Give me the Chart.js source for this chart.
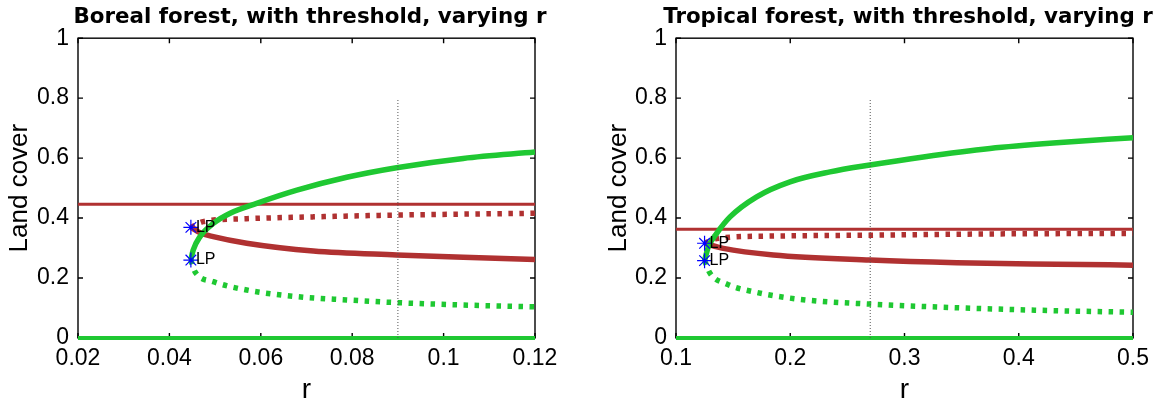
<!DOCTYPE html>
<html>
<head>
<meta charset="utf-8">
<title>Land cover bifurcation, varying r</title>
<script src="https://cdn.jsdelivr.net/npm/chart.js"></script>
<style>
    body { margin: 0; background: #fff; }
    .panel { position: absolute; top: 0; }
    #boreal { left: 0; }
    #tropical { left: 580px; }
</style>
</head>
<body>
<canvas id="boreal" class="panel" width="580" height="401"></canvas>
<canvas id="tropical" class="panel" width="580" height="401"></canvas>
<script>
// Boreal forest branches (r -> land cover)
const borealXTicks = [0.02, 0.04, 0.06, 0.08, 0.1, 0.12];
const borealLP_R = [0.0447, 0.0447];
const borealLP_V = [0.369, 0.26];
const borealGreenR = [0.0447, 0.0452, 0.0467, 0.0496, 0.0533, 0.0591, 0.0679, 0.0788, 0.0897, 0.1043, 0.12];
const borealGreenV = [0.26, 0.293, 0.338, 0.382, 0.416, 0.449, 0.493, 0.536, 0.568, 0.599, 0.62];
const borealGreenDotR = [0.0447, 0.0456, 0.0496, 0.0569, 0.0679, 0.0788, 0.0897, 0.1043, 0.12];
const borealGreenDotV = [0.26, 0.221, 0.188, 0.16, 0.138, 0.127, 0.118, 0.11, 0.104];
const borealRedR = [0.0447, 0.0467, 0.0496, 0.0569, 0.0715, 0.0897, 0.1043, 0.12];
const borealRedV = [0.369, 0.351, 0.338, 0.316, 0.29, 0.277, 0.269, 0.262];
const borealRedDotR = [0.0447, 0.0474, 0.0569, 0.0715, 0.0897, 0.12];
const borealRedDotV = [0.369, 0.388, 0.398, 0.404, 0.41, 0.416];
const borealThreshold = 0.446;
const borealMarkR = 0.09;

// Tropical forest branches
const tropicalXTicks = [0.1, 0.2, 0.3, 0.4, 0.5];
const tropicalLP_R = [0.125, 0.125];
const tropicalLP_V = [0.316, 0.258];
const tropicalGreenR = [0.125, 0.1283, 0.1356, 0.1473, 0.1706, 0.1998, 0.2348, 0.2698, 0.3165, 0.3748, 0.4332, 0.5];
const tropicalGreenV = [0.258, 0.304, 0.349, 0.404, 0.471, 0.521, 0.554, 0.577, 0.604, 0.632, 0.651, 0.668];
const tropicalGreenDotR = [0.125, 0.1298, 0.1444, 0.1706, 0.2085, 0.2698, 0.3457, 0.4332, 0.5];
const tropicalGreenDotV = [0.258, 0.216, 0.18, 0.152, 0.129, 0.113, 0.101, 0.091, 0.086];
const tropicalRedR = [0.125, 0.1414, 0.1852, 0.2698, 0.3457, 0.4332, 0.5];
const tropicalRedV = [0.316, 0.299, 0.277, 0.26, 0.251, 0.246, 0.243];
const tropicalRedDotR = [0.125, 0.1356, 0.1852, 0.2698, 0.3748, 0.5];
const tropicalRedDotV = [0.316, 0.332, 0.34, 0.343, 0.347, 0.349];
const tropicalThreshold = 0.363;
const tropicalMarkR = 0.27;

const yTicks = [0, 0.2, 0.4, 0.6, 0.8, 1];
const markTop = 0.8;
const lpLabels = ['LP', 'LP'];

const GREEN = '#1fc832';
const RED = '#b03131';

Chart.defaults.font.family = '"Liberation Sans", Arial, Helvetica, sans-serif';
Chart.defaults.color = '#000';

const pts = (rs, vs) => rs.map((r, i) => ({ x: r, y: vs[i] }));

// box with inward ticks on all four sides
const framePlugin = {
    id: 'frame',
    beforeDatasetsDraw(chart) {
        const { ctx, chartArea: a, scales: { x, y } } = chart;
        const len = 5;
        ctx.save();
        ctx.strokeStyle = '#000';
        ctx.lineWidth = 1.4;
        ctx.strokeRect(a.left, a.top, a.right - a.left, a.bottom - a.top);
        ctx.beginPath();
        x.ticks.forEach(t => {
            const px = x.getPixelForValue(t.value);
            ctx.moveTo(px, a.bottom); ctx.lineTo(px, a.bottom - len);
            ctx.moveTo(px, a.top); ctx.lineTo(px, a.top + len);
        });
        y.ticks.forEach(t => {
            const py = y.getPixelForValue(t.value);
            ctx.moveTo(a.left, py); ctx.lineTo(a.left + len, py);
            ctx.moveTo(a.right, py); ctx.lineTo(a.right - len, py);
        });
        ctx.stroke();
        ctx.restore();
    }
};

// "LP" next to each limit point marker
const lpPlugin = {
    id: 'lpLabels',
    afterDatasetsDraw(chart) {
        const { ctx } = chart;
        const meta = chart.getDatasetMeta(0);
        ctx.save();
        ctx.font = '16px "Liberation Sans", Arial, sans-serif';
        ctx.fillStyle = '#000';
        ctx.textBaseline = 'middle';
        meta.data.forEach((p, i) => ctx.fillText(lpLabels[i], p.x + 5, p.y));
        ctx.restore();
    }
};

// the title box is only as wide as the plot area; widen it so the text is not squeezed
const titleWidthPlugin = {
    id: 'titleWidth',
    afterLayout(chart, args, opts) {
        const t = chart.titleBlock;
        if (!t) return;
        t.left = opts.center - 270;
        t.right = opts.center + 270;
        t.width = 540;
    }
};

const makePanel = (id, p) => {
    const [xmin, xmax] = [p.xTicks[0], p.xTicks[p.xTicks.length - 1]];
    const clip = { left: 0, right: 0, top: 6, bottom: 6 };
    const solid = (data, color, width) => ({
        data, borderColor: color, borderWidth: width, pointRadius: 0,
        cubicInterpolationMode: 'monotone', fill: false, clip
    });
    const dotted = (data, color) => ({
        ...solid(data, color, 5.5), borderDash: [4.5, 6.5], borderCapStyle: 'butt'
    });

    return new Chart(document.getElementById(id), {
        type: 'line',
        data: {
            // first dataset is painted last (on top)
            datasets: [
                {
                    data: pts(p.lpR, p.lpV), showLine: false, clip: false,
                    pointStyle: 'star', pointRadius: 7.5, pointBorderWidth: 1.2,
                    pointBorderColor: '#0000ff', pointBackgroundColor: '#0000ff'
                },
                {
                    data: pts([p.markR, p.markR], [0, markTop]),
                    borderColor: '#555', borderWidth: 1, borderDash: [1, 2], pointRadius: 0
                },
                solid(pts([xmin, xmax], [0, 0]), GREEN, 4),
                solid(pts(p.greenR, p.greenV), GREEN, 5.5),
                dotted(pts(p.greenDotR, p.greenDotV), GREEN),
                solid(pts(p.redR, p.redV), RED, 5.5),
                dotted(pts(p.redDotR, p.redDotV), RED),
                solid(pts([xmin, xmax], [p.threshold, p.threshold]), RED, 3)
            ]
        },
        options: {
            responsive: false,
            animation: false,
            devicePixelRatio: 1,
            layout: { padding: { left: 0, right: p.padRight, top: 0, bottom: 0 } },
            plugins: {
                legend: { display: false },
                tooltip: { enabled: false },
                titleWidth: { center: p.titleCenter },
                title: {
                    display: true,
                    text: p.title,
                    fullSize: false,
                    color: '#000',
                    font: { family: '"DejaVu Sans", sans-serif', weight: 'bold', size: 21.4 },
                    padding: { top: 4.5, bottom: 8 }
                }
            },
            scales: {
                x: {
                    type: 'linear', min: xmin, max: xmax,
                    afterBuildTicks: s => { s.ticks = p.xTicks.map(v => ({ value: v })); },
                    afterFit: s => { s.height = 63; },
                    grid: { display: false, drawTicks: false },
                    border: { display: false },
                    ticks: { padding: 7, maxRotation: 0, autoSkip: false, font: { size: 23 }, callback: v => String(v) },
                    title: { display: true, text: 'r', font: { size: 28, lineHeight: 1 }, padding: { top: 0, bottom: -3 } }
                },
                y: {
                    type: 'linear', min: 0, max: 1,
                    afterBuildTicks: s => { s.ticks = yTicks.map(v => ({ value: v })); },
                    afterFit: s => { s.width = p.axisWidth; },
                    grid: { display: false, drawTicks: false },
                    border: { display: false },
                    ticks: { padding: 9, font: { size: 23 }, callback: v => String(v) },
                    title: { display: true, text: 'Land cover', font: { size: 26 }, padding: { top: p.titlePad } }
                }
            }
        },
        plugins: [framePlugin, lpPlugin, titleWidthPlugin]
    });
};

makePanel('boreal', {
    title: 'Boreal forest, with threshold, varying r',
    xTicks: borealXTicks,
    lpR: borealLP_R, lpV: borealLP_V,
    greenR: borealGreenR, greenV: borealGreenV,
    greenDotR: borealGreenDotR, greenDotV: borealGreenDotV,
    redR: borealRedR, redV: borealRedV,
    redDotR: borealRedDotR, redDotV: borealRedDotV,
    threshold: borealThreshold, markR: borealMarkR,
    axisWidth: 78, padRight: 45, titlePad: 4.4, titleCenter: 310
});

makePanel('tropical', {
    title: 'Tropical forest, with threshold, varying r',
    xTicks: tropicalXTicks,
    lpR: tropicalLP_R, lpV: tropicalLP_V,
    greenR: tropicalGreenR, greenV: tropicalGreenV,
    greenDotR: tropicalGreenDotR, greenDotV: tropicalGreenDotV,
    redR: tropicalRedR, redV: tropicalRedV,
    redDotR: tropicalRedDotR, redDotV: tropicalRedDotV,
    threshold: tropicalThreshold, markR: tropicalMarkR,
    axisWidth: 96, padRight: 27, titlePad: 23, titleCenter: 328
});
</script>
</body>
</html>
